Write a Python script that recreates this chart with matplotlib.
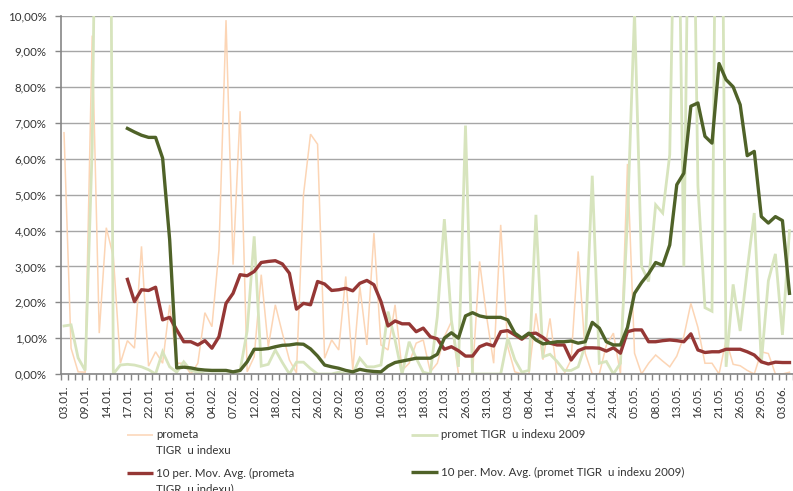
import numpy as np
import matplotlib
matplotlib.use("Agg")
import matplotlib.pyplot as plt
from matplotlib.lines import Line2D

# ---------------- data (values in %) ----------------
tick_labels = ["03.01.", "09.01.", "14.01.", "17.01.", "22.01.", "25.01.", "30.01.",
               "04.02.", "07.02.", "12.02.", "18.02.", "21.02.", "26.02.", "29.02.",
               "05.03.", "10.03.", "13.03.", "18.03.", "21.03.", "26.03.", "31.03.",
               "03.04.", "08.04.", "11.04.", "16.04.", "21.04.", "24.04.", "05.05.",
               "08.05.", "13.05.", "16.05.", "21.05.", "26.05.", "29.05.", "03.06."]

prometa = [6.73, 0.72, 0.06, 0.05, 9.44, 1.14, 4.08, 3.28, 0.30, 0.93,
           0.72, 3.56, 0.22, 0.62, 0.30, 1.93, 0.30, 0.30, 0.00, 0.30,
           1.71, 1.32, 3.46, 9.87, 3.05, 7.33, 0.06, 0.48, 2.77, 0.76,
           1.93, 1.14, 0.39, 0.03, 5.00, 6.69, 6.41, 0.44, 0.95, 0.67,
           2.72, 0.11, 2.44, 0.81, 3.93, 0.81, 0.67, 1.93, 0.10, 0.30,
           0.86, 0.95, 0.06, 0.30, 1.04, 1.46, 0.00, 0.00, 0.00, 3.14,
           1.60, 0.30, 4.16, 0.76, 0.06, 0.00, 0.00, 1.69, 0.40, 1.55,
           0.00, 0.00, 0.40, 3.42, 0.58, 0.00, 0.00, 0.80, 1.14, 0.00,
           5.86, 0.58, 0.00, 0.30, 0.53, 0.36, 0.20, 0.50, 1.05, 1.97,
           1.30, 0.30, 0.30, 0.00, 0.95, 0.27, 0.23, 0.10, 0.00, 0.62,
           0.57, 0.00, 0.00, 0.05]

promet_2009 = [1.34, 1.37, 0.45, 0.10, 6.30, 23.0, 35.7, 0.00, 0.25, 0.27,
               0.25, 0.20, 0.12, 0.00, 0.62, 0.20, 0.05, 0.34, 0.10, 0.05,
               0.00, 0.00, 0.00, 0.00, 0.00, 0.10, 1.20, 3.84, 0.22, 0.27,
               0.67, 0.32, 0.00, 0.33, 0.33, 0.15, 0.00, 0.00, 0.00, 0.05,
               0.00, 0.00, 0.44, 0.20, 0.20, 0.25, 1.74, 0.95, 0.00, 0.90,
               0.44, 0.05, 0.00, 1.60, 4.32, 1.50, 0.20, 6.93, 0.00, 0.00,
               0.00, 0.00, 0.00, 1.00, 0.40, 0.05, 0.10, 4.44, 0.48, 0.55,
               0.35, 0.10, 0.10, 0.20, 0.80, 5.53, 0.30, 0.35, 0.00, 0.30,
               4.35, 10.1, 3.00, 2.58, 4.72, 4.49, 6.12, 17.0, 3.00, 19.0,
               5.25, 1.85, 1.75, 24.8, 0.20, 2.50, 1.20, 2.90, 4.49, 0.30,
               2.60, 3.35, 1.09, 4.00]

nan = float("nan")
ma_prometa = [nan] * 9 + [
    2.64, 2.02, 2.35, 2.33, 2.42, 1.51, 1.58, 1.23, 0.90, 0.90,
    0.81, 0.93, 0.72, 1.04, 1.97, 2.25, 2.77, 2.74, 2.86, 3.11,
    3.14, 3.16, 3.07, 2.81, 1.81, 1.97, 1.93, 2.58, 2.51, 2.33,
    2.35, 2.39, 2.32, 2.53, 2.61, 2.49, 2.02, 1.34, 1.48, 1.40,
    1.40, 1.18, 1.28, 1.04, 0.98, 0.69, 0.76, 0.65, 0.50, 0.50,
    0.76, 0.84, 0.78, 1.18, 1.21, 1.09, 0.97, 1.12, 1.14, 1.02,
    0.86, 0.81, 0.81, 0.39, 0.65, 0.73, 0.73, 0.72, 0.64, 0.73,
    0.58, 1.18, 1.23, 1.23, 0.90, 0.90, 0.93, 0.95, 0.93, 0.90,
    1.12, 0.67, 0.60, 0.62, 0.62, 0.69, 0.69, 0.69, 0.62, 0.53,
    0.34, 0.28, 0.33, 0.32, 0.32]

ma_2009 = [nan] * 9 + [
    6.85, 6.75, 6.66, 6.60, 6.60, 6.02, 3.74, 0.17, 0.19, 0.17,
    0.13, 0.11, 0.10, 0.10, 0.10, 0.06, 0.10, 0.34, 0.69, 0.69,
    0.71, 0.76, 0.80, 0.81, 0.84, 0.83, 0.70, 0.50, 0.25, 0.20,
    0.16, 0.10, 0.06, 0.13, 0.09, 0.07, 0.06, 0.22, 0.32, 0.36,
    0.40, 0.44, 0.44, 0.44, 0.55, 1.00, 1.15, 1.00, 1.62, 1.71,
    1.62, 1.58, 1.58, 1.58, 1.51, 1.14, 1.00, 1.14, 0.95, 0.84,
    0.87, 0.90, 0.90, 0.92, 0.86, 0.90, 1.44, 1.28, 0.90, 0.81,
    0.81, 1.30, 2.25, 2.55, 2.80, 3.11, 3.03, 3.60, 5.28, 5.60,
    7.47, 7.56, 6.63, 6.44, 8.66, 8.21, 8.01, 7.51, 6.09, 6.21,
    4.39, 4.21, 4.39, 4.28, 2.25]

name_1 = "prometa\nTIGR  u indexu"
name_2 = "promet TIGR  u indexu 2009"
name_3 = "10 per. Mov. Avg. (prometa\nTIGR  u indexu)"
name_4 = "10 per. Mov. Avg. (promet TIGR  u indexu 2009)"

# ---------------- style ----------------
C_PEACH = "#FCD5B5"
C_LGREEN = "#D7E4BD"
C_RED = "#953735"
C_DGREEN = "#4F6228"
C_GRID = "#A6A6A6"
C_AXIS = "#868686"
C_TEXT = "#333333"
FONT = ["Lato", "DejaVu Sans"]
plt.rcParams["font.family"] = FONT

W, H = 793, 491
fig = plt.figure(figsize=(W / 100, H / 100), dpi=100)
fig.patch.set_facecolor("white")

x0, x1 = 60.5, 793.0
y_top, y_bot = 15.5, 374.0
ax = fig.add_axes([x0 / W, 1 - y_bot / H, (x1 - x0) / W, (y_bot - y_top) / H])

x = np.arange(len(prometa))
lw_thin, lw_mid, lw_ma = 1.1, 2.0, 2.4
ax.plot(x, prometa, color=C_PEACH, lw=lw_thin, solid_joinstyle="miter", zorder=2)
ax.plot(x, promet_2009, color=C_LGREEN, lw=lw_mid, solid_joinstyle="miter", zorder=2)
ax.plot(x, ma_prometa, color=C_RED, lw=lw_ma, solid_joinstyle="round", zorder=3)
ax.plot(x, ma_2009, color=C_DGREEN, lw=lw_ma, solid_joinstyle="round", zorder=3)

ax.set_ylim(0, 10)
ax.set_xlim(-0.5, -0.5 + (x1 - x0) / 7.08)

yt = np.arange(0, 11, 1)
ax.set_yticks(yt)
ax.set_yticklabels([f"{v:.2f}%".replace(".", ",") for v in yt])
ax.yaxis.grid(True, color=C_GRID, lw=1.0)
ax.set_axisbelow(True)
ax.tick_params(axis="y", length=4, width=1, color=C_AXIS, pad=6,
               labelsize=8.3, labelcolor=C_TEXT)

major = np.arange(0, 3 * len(tick_labels), 3)
ax.set_xticks(major)
ax.set_xticklabels(tick_labels, rotation=90, ha="center", va="top")
ax.set_xticks(np.arange(-0.5, len(prometa) + 0.5, 1), minor=True)
ax.tick_params(axis="x", which="major", length=0, pad=8.6,
               labelsize=8.3, labelcolor=C_TEXT)
ax.tick_params(axis="x", which="minor", length=4, width=1, color=C_AXIS)

for s in ("top", "right"):
    ax.spines[s].set_visible(False)
for s in ("left", "bottom"):
    ax.spines[s].set_color(C_AXIS)
    ax.spines[s].set_linewidth(1.2)

# ---------------- legend (drawn below the plot) ----------------
def fx(px):
    return px / W

def fy(py):
    return 1 - py / H

def entry(lx0, lx1, ly, color, lw, text, tx, line_gap=16):
    fig.add_artist(Line2D([fx(lx0), fx(lx1)], [fy(ly), fy(ly)], color=color, lw=lw,
                          solid_capstyle="butt"))
    for k, line in enumerate(text.split("\n")):
        fig.text(fx(tx), fy(ly + k * line_gap), line, ha="left", va="center",
                 fontsize=8.3, color=C_TEXT)

entry(127, 153, 435, C_PEACH, lw_thin, name_1, 156)
entry(411, 438, 435, C_LGREEN, lw_mid, name_2, 441)
entry(127, 153, 473, C_RED, lw_ma, name_3, 156)
entry(411, 438, 472, C_DGREEN, lw_ma, name_4, 441)

fig.savefig("out.png", dpi=100, facecolor="white")
